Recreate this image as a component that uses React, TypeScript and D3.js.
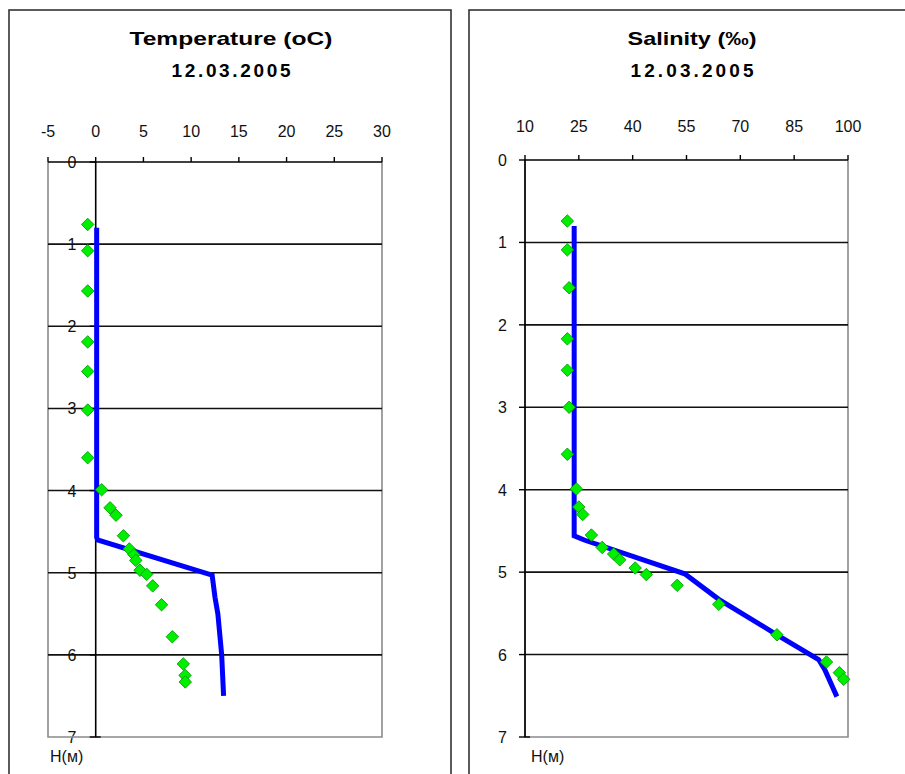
import React from "react";
import * as d3 from "d3";

// Temperature profile 12.03.2005
const depthTicks = [0, 1, 2, 3, 4, 5, 6, 7];
const tempTicks = [-5, 0, 5, 10, 15, 20, 25, 30];
const tempLineT = [0.1, 0.1, 0.2, 12.2, 12.5, 12.8, 13.2, 13.4];
const tempLineH = [0.8, 4.57, 4.6, 5.03, 5.3, 5.5, 6.0, 6.5];
const tempDotsT = [-0.84, -0.84, -0.84, -0.84, -0.84, -0.84, -0.84, 0.62, 1.5, 2.13, 2.9, 3.52, 4.0, 4.2, 4.64, 5.34, 5.97, 6.9, 8.03, 9.18, 9.36, 9.39];
const tempDotsH = [0.76, 1.08, 1.57, 2.19, 2.55, 3.02, 3.6, 3.99, 4.21, 4.3, 4.55, 4.71, 4.78, 4.85, 4.97, 5.02, 5.16, 5.39, 5.78, 6.11, 6.25, 6.33];

// Salinity profile 12.03.2005
const salTicks = [10, 25, 40, 55, 70, 85, 100];
const salLineS = [23.7, 23.7, 26.5, 54.5, 64, 80.2, 91.8, 93.5, 96.9];
const salLineH = [0.8, 4.56, 4.61, 5.02, 5.33, 5.76, 6.06, 6.18, 6.51];
const salDotsS = [21.8, 21.8, 22.3, 21.8, 21.8, 22.3, 21.8, 24.3, 25, 26.1, 28.5, 31.5, 34.7, 36.4, 40.7, 43.8, 52.4, 64, 80.2, 94, 97.6, 98.8];
const salDotsH = [0.74, 1.09, 1.55, 2.17, 2.55, 3.0, 3.57, 3.99, 4.21, 4.3, 4.55, 4.7, 4.78, 4.85, 4.95, 5.03, 5.16, 5.39, 5.76, 6.09, 6.22, 6.3];

const font = "'Liberation Sans', Arial, sans-serif";
const diamond = d3.symbol(d3.symbolSquare, 78)();

type PanelProps = {
  frameX: number;
  frameW: number;
  title: string;
  titleX: number;
  titleLen: number;
  dateLen: number;
  xDomain: [number, number];
  xRange: [number, number];
  yRange: [number, number];
  xTicks: number[];
  tickLabelY: number;
  axisAt: number;
  yLabelX: number;
  yLabelAnchor: string;
  lineX: number[];
  lineY: number[];
  dotX: number[];
  dotY: number[];
  hX: number;
};

const Panel = (p: PanelProps) => {
  const x = d3.scaleLinear().domain(p.xDomain).range(p.xRange);
  const y = d3.scaleLinear().domain([0, 7]).range(p.yRange);
  const [x0, x1] = p.xRange;
  const [y0, y1] = p.yRange;
  const ax = x(p.axisAt);
  const line = d3
    .line<number>()
    .x((_, i) => x(p.lineX[i]))
    .y((_, i) => y(p.lineY[i]));

  return (
    <g>
      {/* outer frame */}
      <rect x={p.frameX} y={10} width={p.frameW} height={800} fill="#fff" stroke="#333" strokeWidth={1.6} />

      {/* titles */}
      <text x={p.titleX} y={45} textAnchor="middle" fontFamily={font} fontWeight="bold" fontSize={19}
        textLength={p.titleLen} lengthAdjust="spacingAndGlyphs">{p.title}</text>
      <text x={p.titleX} y={77} textAnchor="middle" fontFamily={font} fontWeight="bold" fontSize={19}
        textLength={p.dateLen} lengthAdjust="spacing">12.03.2005</text>

      {/* x tick labels */}
      {p.xTicks.map((t) => (
        <text key={t} x={x(t)} y={p.tickLabelY} textAnchor="middle" fontFamily={font} fontSize={16} fill="#111">{t}</text>
      ))}

      {/* y tick labels */}
      {depthTicks.map((t) => (
        <text key={t} x={p.yLabelX} y={y(t) + 6} textAnchor={p.yLabelAnchor} fontFamily={font} fontSize={16} fill="#111">{t}</text>
      ))}

      {/* plot border (grey) */}
      <path d={`M${x0},${y0}V${y1}H${x1}V${y0}`} fill="none" stroke="#8a8a8a" strokeWidth={1.6} />

      {/* gridlines */}
      {depthTicks.filter((t) => t > 0 && t < 7).map((t) => (
        <line key={t} x1={x0} x2={x1} y1={y(t)} y2={y(t)} stroke="#111" strokeWidth={1.6} />
      ))}

      {/* top axis + ticks */}
      <line x1={x0} x2={x1} y1={y0} y2={y0} stroke="#000" strokeWidth={1.6} />
      {p.xTicks.map((t) => (
        <line key={t} x1={x(t)} x2={x(t)} y1={y0} y2={y0 - 5} stroke="#000" strokeWidth={1.4} />
      ))}

      {/* depth axis */}
      <line x1={ax} x2={ax} y1={y0} y2={y1} stroke="#000" strokeWidth={1.6} />
      {depthTicks.map((t) => (
        <line key={t} x1={ax - 6} x2={ax + (t === 7 ? 5 : 0)} y1={y(t)} y2={y(t)} stroke="#000" strokeWidth={1.4} />
      ))}

      {/* measured profile line */}
      <path d={line(p.lineX) || ""} fill="none" stroke="#0000ff" strokeWidth={5} strokeLinejoin="miter" />

      {/* observation points */}
      {p.dotX.map((v, i) => (
        <path key={i} d={diamond || ""} transform={`translate(${x(v)},${y(p.dotY[i])}) rotate(45)`}
          fill="#00ee00" stroke="#009900" strokeWidth={0.8} />
      ))}

      <text x={p.hX} y={762} fontFamily={font} fontSize={16} fill="#111">H(м)</text>
    </g>
  );
};

const App = () => {
  return (
    <svg width={905} height={774} style={{ position: "absolute", left: 0, top: 0, display: "block", background: "#fff" }}>
      <Panel
        frameX={9}
        frameW={442}
        title="Temperature (oC)"
        titleX={231}
        titleLen={203}
        dateLen={119}
        xDomain={[-5, 30]}
        xRange={[48, 382]}
        yRange={[162, 737]}
        xTicks={tempTicks}
        tickLabelY={137}
        axisAt={0}
        yLabelX={72}
        yLabelAnchor="middle"
        lineX={tempLineT}
        lineY={tempLineH}
        dotX={tempDotsT}
        dotY={tempDotsH}
        hX={50}
      />
      <Panel
        frameX={469}
        frameW={460}
        title="Salinity (‰)"
        titleX={692}
        titleLen={129}
        dateLen={123}
        xDomain={[10, 100]}
        xRange={[525, 848]}
        yRange={[160, 737]}
        xTicks={salTicks}
        tickLabelY={132}
        axisAt={10}
        yLabelX={507}
        yLabelAnchor="end"
        lineX={salLineS}
        lineY={salLineH}
        dotX={salDotsS}
        dotY={salDotsH}
        hX={531}
      />
    </svg>
  );
};

export default App;
